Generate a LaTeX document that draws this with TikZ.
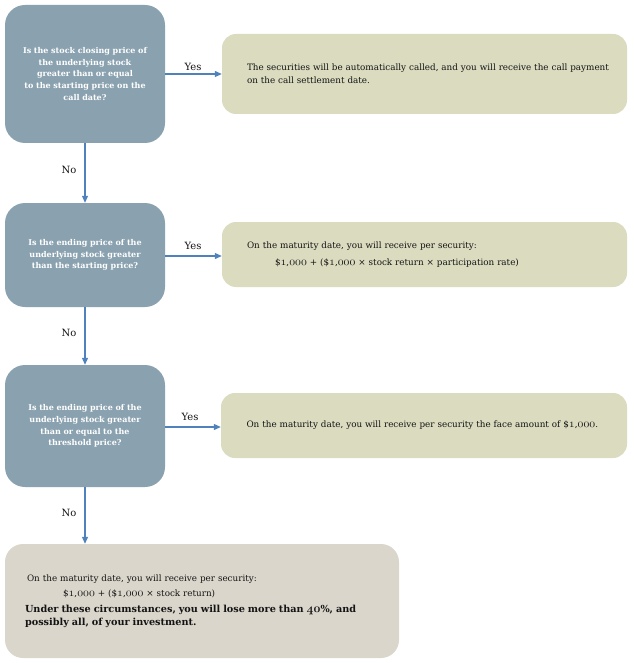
\documentclass[tikz,border=0pt]{standalone}
\usepackage{fontspec}
\setmainfont{DejaVu Serif}
\usetikzlibrary{arrows.meta}
\definecolor{qcol}{RGB}{138,162,176}
\definecolor{acol}{RGB}{218,219,191}
\definecolor{bcol}{RGB}{218,214,203}
\definecolor{lcol}{RGB}{79,129,189}
\definecolor{tcol}{RGB}{20,20,20}
\newcommand\osn[1]{{\fontencoding{OML}\fontfamily{cmm}\fontseries{m}\fontshape{it}\fontsize{11.5}{10}\selectfont #1}}
\newcommand\osnb[1]{{\fontencoding{OML}\fontfamily{cmm}\fontseries{b}\fontshape{it}\fontsize{12.5}{10}\selectfont #1}}
\newcommand\qfont{\fontsize{8}{11.8}\selectfont\bfseries}
\newcommand\afont{\fontsize{8.8}{13}\selectfont}
\newcommand\lfont{\fontsize{10}{12}\selectfont}
\newcommand\onek{\$\osn{1},\osn{000}}
\begin{document}
\begin{tikzpicture}[x=1pt,y=-1pt,
  qbox/.style={fill=qcol, rounded corners=20pt, minimum width=160pt, text width=150pt, align=center, text=white, font=\qfont, inner sep=0pt},
  abox/.style={fill=acol, rounded corners=14pt, minimum width=405pt, text width=355pt, align=left, text=tcol, font=\afont, inner sep=0pt},
  bbox/.style={fill=bcol, rounded corners=18pt, minimum width=394pt, minimum height=114pt, text width=354pt, align=left, text=tcol, font=\afont, inner sep=0pt},
  arr/.style={draw=lcol, line width=1.1pt, -{Triangle[length=7pt,width=6pt]}},
  lbl/.style={font=\lfont, inner sep=0pt, text=tcol}]
\useasboundingbox (0,0) rectangle (633,663);

\node[qbox, minimum height=138pt] (q1) at (85,74) {Is the stock closing price of\\the underlying stock\\greater than or equal\\to the starting price on the\\call date?};
\node[abox, minimum height=80pt] (a1) at (424.5,74) {\mbox{The securities will be automatically called, and you will receive the call payment}\\on the call settlement date.};

\node[qbox, minimum height=104pt] (q2) at (85,255) {Is the ending price of the\\underlying stock greater\\than the starting price?};
\node[abox, minimum height=65pt] (a2) at (424.5,254.5) {On the maturity date, you will receive per security:\\[4pt]\hspace*{28pt}\onek{} + (\onek{} × stock return × participation rate)};

\node[qbox, minimum height=122pt] (q3) at (85,426) {Is the ending price of the\\underlying stock greater\\than or equal to the\\threshold price?};
\node[abox, minimum width=406pt, minimum height=65pt] (a3) at (424,425.5) {On the maturity date, you will receive per security the face amount of \onek.};

\node[bbox] (b) at (202,601) {\hspace*{2pt}On the maturity date, you will receive per security:\\[2pt]\hspace*{38pt}\onek{} + (\onek{} × stock return)\\[1pt]{\fontsize{9.7}{14.5}\selectfont\bfseries Under these circumstances, you will lose more than \osnb{40}\%, and\\possibly all, of your investment.}};

\draw[arr] (q1.east) -- (a1.west);
\draw[arr] (q2.east |- 0,256) -- (a2.west |- 0,256);
\draw[arr] (q3.east |- 0,427) -- (a3.west |- 0,427);
\draw[arr] (q1.south) -- (q2.north);
\draw[arr] (q2.south) -- (q3.north);
\draw[arr] (q3.south) -- (q3.south |- b.north);

\node[lbl] (y1) at (193,67) {Yes};
\node[lbl] (y2) at (193,246) {Yes};
\node[lbl] (y3) at (190,417) {Yes};
\node[lbl] (n1) at (69,170) {No};
\node[lbl] (n2) at (69,333) {No};
\node[lbl] (n3) at (69,513) {No};
\end{tikzpicture}
\end{document}
